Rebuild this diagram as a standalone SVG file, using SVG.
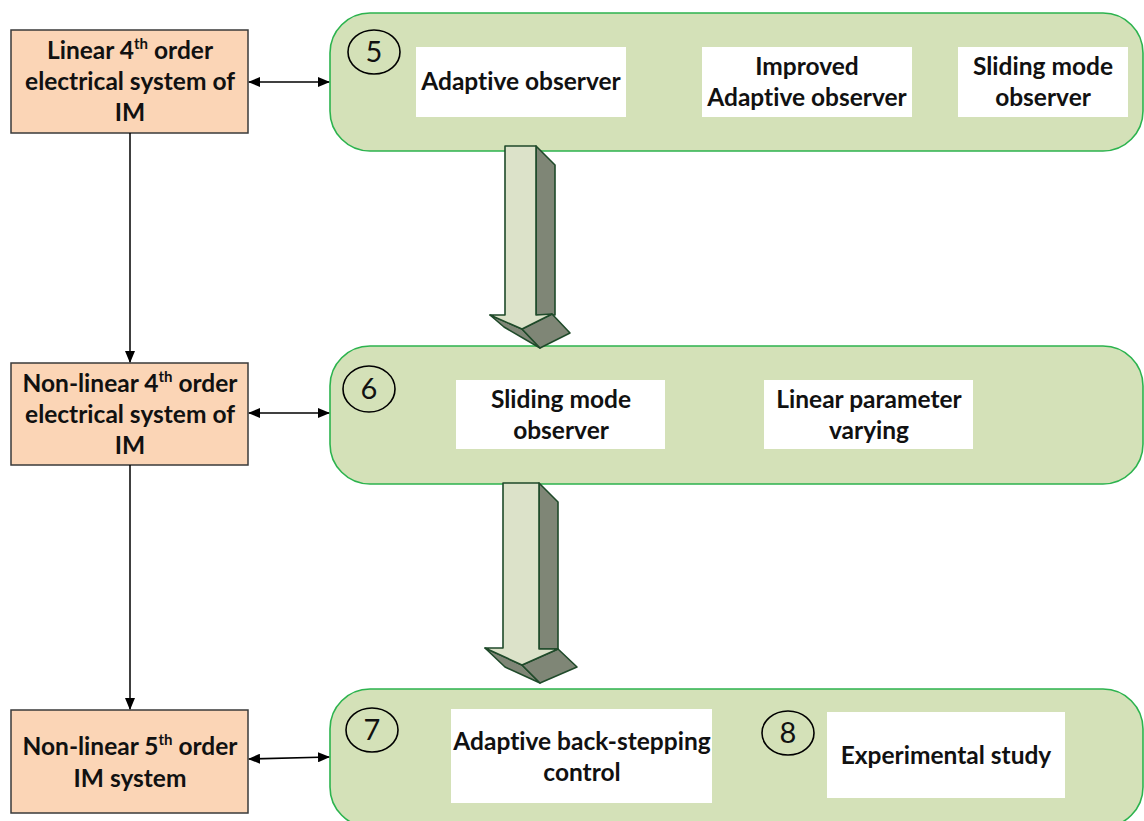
<svg xmlns="http://www.w3.org/2000/svg" width="1144" height="821" viewBox="0 0 1144 821">
  <defs>
    <marker id="tip" viewBox="0 0 12 10" refX="11" refY="5" markerWidth="12" markerHeight="10" markerUnits="userSpaceOnUse" orient="auto-start-reverse">
      <path d="M0,0 L12,5 L0,10 Z" fill="#000"/>
    </marker>
    <style>
      .sys { fill: #fbd5b6; stroke: #3a3a3a; stroke-width: 1.5; }
      .stage { fill: #d4e1b8; stroke: #2cb34e; stroke-width: 1.6; }
      .card { fill: #ffffff; }
      .num { fill: none; stroke: #000; stroke-width: 1.6; }
      .lbl { font-family: Lato, "Liberation Sans", sans-serif; font-weight: bold; font-size: 24.5px; fill: #111; text-anchor: middle; font-variant-ligatures: none; font-feature-settings: "liga" 0, "dlig" 0; }
      .sup { font-size: 15px; }
      .digit { font-family: Lato, "Liberation Sans", sans-serif; font-size: 29px; fill: #111; text-anchor: middle; }
      .link { fill: none; stroke: #000; stroke-width: 1.5; }
      .front { fill: #dce2c9; stroke: #1f4a2a; stroke-width: 1.6; stroke-linejoin: round; }
      .shade { fill: #7f8676; stroke: #1f4a2a; stroke-width: 1.6; stroke-linejoin: round; }
    </style>
  </defs>

  <!-- model boxes on the left -->
  <g id="model-linear4">
    <rect class="sys" x="11" y="30" width="237" height="103"/>
    <text class="lbl" x="130" y="59">Linear 4<tspan class="sup" dy="-10">th</tspan><tspan dy="10"> order</tspan></text>
    <text class="lbl" x="130" y="90">electrical system of</text>
    <text class="lbl" x="130" y="121">IM</text>
  </g>
  <g id="model-nonlinear4">
    <rect class="sys" x="11" y="363" width="237" height="102"/>
    <text class="lbl" x="130" y="392">Non-linear 4<tspan class="sup" dy="-10">th</tspan><tspan dy="10"> order</tspan></text>
    <text class="lbl" x="130" y="423">electrical system of</text>
    <text class="lbl" x="130" y="454">IM</text>
  </g>
  <g id="model-nonlinear5">
    <rect class="sys" x="11" y="710" width="237" height="103"/>
    <text class="lbl" x="130" y="755">Non-linear 5<tspan class="sup" dy="-10">th</tspan><tspan dy="10"> order</tspan></text>
    <text class="lbl" x="130" y="787">IM system</text>
  </g>

  <!-- chapter panels -->
  <g id="chapter-5">
    <rect class="stage" x="330" y="13" width="813" height="138" rx="40" ry="40"/>
    <ellipse class="num" cx="374" cy="52" rx="26" ry="22"/>
    <text class="digit" x="374" y="62">5</text>
    <rect class="card" x="416" y="47" width="210" height="70"/>
    <text class="lbl" x="521" y="90">Adaptive observer</text>
    <rect class="card" x="702" y="47" width="210" height="70"/>
    <text class="lbl" x="807" y="75">Improved</text>
    <text class="lbl" x="807" y="106">Adaptive observer</text>
    <rect class="card" x="958" y="47" width="170" height="70"/>
    <text class="lbl" x="1043" y="75">Sliding mode</text>
    <text class="lbl" x="1043" y="106">observer</text>
  </g>
  <g id="chapter-6">
    <rect class="stage" x="330" y="346" width="813" height="138" rx="40" ry="40"/>
    <ellipse class="num" cx="369" cy="389" rx="26" ry="23"/>
    <text class="digit" x="369" y="399">6</text>
    <rect class="card" x="456" y="380" width="209" height="69"/>
    <text class="lbl" x="561" y="408">Sliding mode</text>
    <text class="lbl" x="561" y="439">observer</text>
    <rect class="card" x="764" y="380" width="209" height="69"/>
    <text class="lbl" x="869" y="408">Linear parameter</text>
    <text class="lbl" x="869" y="439">varying</text>
  </g>
  <g id="chapter-7-8">
    <rect class="stage" x="330" y="689" width="813" height="138" rx="40" ry="40"/>
    <ellipse class="num" cx="372" cy="730" rx="26" ry="22"/>
    <text class="digit" x="372" y="740">7</text>
    <rect class="card" x="451" y="709" width="261" height="94"/>
    <text class="lbl" x="582" y="750">Adaptive back-stepping</text>
    <text class="lbl" x="582" y="781">control</text>
    <ellipse class="num" cx="788" cy="733" rx="26" ry="22"/>
    <text class="digit" x="788" y="743">8</text>
    <rect class="card" x="827" y="712" width="238" height="86"/>
    <text class="lbl" x="946" y="764">Experimental study</text>
  </g>

  <!-- block arrows between panels -->
  <g id="flow-5-6">
    <polygon class="shade" points="536,146 555,165 555,315 536,315"/>
    <polygon class="shade" points="490,315 522,329 540,348 504,327"/>
    <polygon class="shade" points="522,329 552,314 570,333 540,348"/>
    <polygon class="front" points="505,146 536,146 536,315 552,314 522,329 490,315 505,315"/>
  </g>
  <g id="flow-6-7">
    <polygon class="shade" points="539,483 558,502 558,649 539,649"/>
    <polygon class="shade" points="485,648 522,665 540,683 505,667"/>
    <polygon class="shade" points="522,665 558,649 577,667 540,683"/>
    <polygon class="front" points="503,483 539,483 539,649 558,649 522,665 485,648 503,648"/>
  </g>

  <!-- connectors -->
  <g id="connectors">
    <line class="link" x1="130" y1="133" x2="130" y2="362" marker-end="url(#tip)"/>
    <line class="link" x1="130" y1="465" x2="130" y2="709" marker-end="url(#tip)"/>
    <line class="link" x1="249" y1="82" x2="329" y2="82" marker-start="url(#tip)" marker-end="url(#tip)"/>
    <line class="link" x1="249" y1="413" x2="329" y2="413" marker-start="url(#tip)" marker-end="url(#tip)"/>
    <line class="link" x1="249" y1="759" x2="329" y2="757" marker-start="url(#tip)" marker-end="url(#tip)"/>
  </g>
</svg>
